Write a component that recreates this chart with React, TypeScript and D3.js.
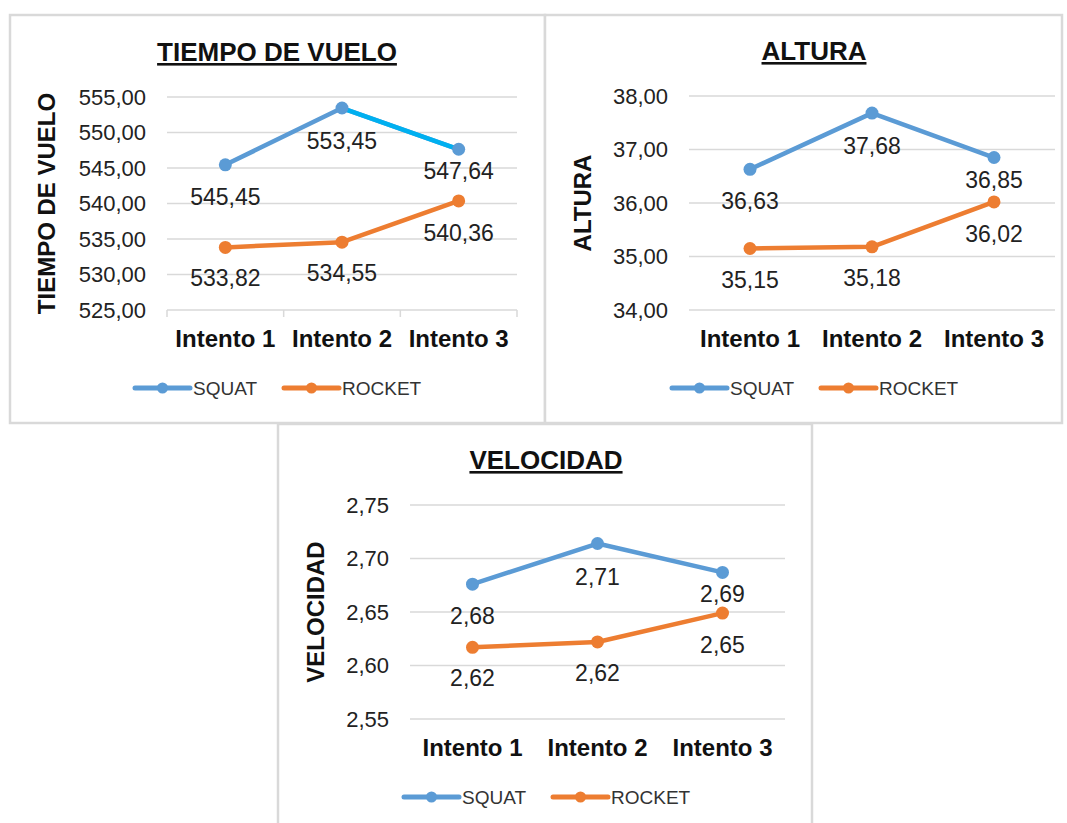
import * as d3 from "d3";

const categories = ["Intento 1", "Intento 2", "Intento 3"];
const seriesNames = ["SQUAT", "ROCKET"];

const tiempoSquat = [545.45, 553.45, 547.64];
const tiempoRocket = [533.82, 534.55, 540.36];
const tiempoTicks = [525, 530, 535, 540, 545, 550, 555];

const alturaSquat = [36.63, 37.68, 36.85];
const alturaRocket = [35.15, 35.18, 36.02];
const alturaTicks = [34, 35, 36, 37, 38];

const velocidadSquat = [2.676, 2.714, 2.687];
const velocidadRocket = [2.617, 2.622, 2.649];
const velocidadTicks = [2.55, 2.6, 2.65, 2.7, 2.75];

const colors = ["#5b9bd5", "#ed7d31"];
const highlight = "#00b0f0";
const grid = "#d9d9d9";
const font = "'Liberation Sans', Arial, sans-serif";

// label distance below each point (series x category)
const labelDy = [
  [32, 33, 22],
  [31, 31, 32],
];

const fmt = (v: number) => d3.format(".2f")(v).replace(".", ",");

type Panel = {
  title: string;
  series: number[][];
  ticks: number[];
  box: [number, number, number, number];
  plot: { left: number; right: number; top: number; bottom: number };
  cx: number;
  yTitleX: number;
  tickMarks: boolean;
  cyanSegment?: number;
};

const panels: Panel[] = [
  {
    title: "TIEMPO DE VUELO",
    series: [tiempoSquat, tiempoRocket],
    ticks: tiempoTicks,
    box: [10, 15, 545, 423],
    plot: { left: 167, right: 517, top: 97, bottom: 310 },
    cx: 277,
    yTitleX: 47,
    tickMarks: true,
    cyanSegment: 1,
  },
  {
    title: "ALTURA",
    series: [alturaSquat, alturaRocket],
    ticks: alturaTicks,
    box: [545, 15, 1062, 423],
    plot: { left: 689, right: 1055, top: 96, bottom: 310 },
    cx: 814,
    yTitleX: 583,
    tickMarks: false,
  },
  {
    title: "VELOCIDAD",
    series: [velocidadSquat, velocidadRocket],
    ticks: velocidadTicks,
    box: [278, 424, 812, 830],
    plot: { left: 410, right: 785, top: 505, bottom: 719 },
    cx: 546,
    yTitleX: 316,
    tickMarks: false,
  },
];

function LineChart({ p }: { p: Panel }) {
  const { plot } = p;
  const x = d3
    .scaleBand<string>()
    .domain(categories)
    .range([plot.left, plot.right]);
  const y = d3
    .scaleLinear()
    .domain(d3.extent(p.ticks) as [number, number])
    .range([plot.bottom, plot.top]);
  const cxOf = (c: string) => (x(c) ?? 0) + x.bandwidth() / 2;
  const line = d3
    .line<number>()
    .x((_, i) => cxOf(categories[i]))
    .y((d) => y(d));

  return (
    <g>
      <rect
        x={p.box[0]}
        y={p.box[1]}
        width={p.box[2] - p.box[0]}
        height={p.box[3] - p.box[1]}
        fill="#fff"
        stroke={grid}
        strokeWidth={2.5}
      />
      <text
        x={p.cx}
        y={plot.top - 36}
        textAnchor="middle"
        fontSize={26}
        fontWeight="bold"
        fill="#111"
        style={{ textDecoration: "underline" }}
      >
        {p.title}
      </text>
      {p.ticks.map((t) => (
        <g key={t}>
          <line
            x1={plot.left}
            x2={plot.right}
            y1={y(t)}
            y2={y(t)}
            stroke={grid}
            strokeWidth={1.5}
          />
          <text
            x={plot.left - 21}
            y={y(t)}
            dy="0.35em"
            textAnchor="end"
            fontSize={22}
            fill="#222"
          >
            {fmt(t)}
          </text>
        </g>
      ))}
      {p.tickMarks &&
        [...categories.map((c) => x(c) ?? 0), plot.right].map((tx) => (
          <line
            key={tx}
            x1={tx}
            x2={tx}
            y1={plot.bottom}
            y2={plot.bottom + 7}
            stroke={grid}
            strokeWidth={1.5}
          />
        ))}
      {categories.map((c) => (
        <text
          key={c}
          x={cxOf(c)}
          y={plot.bottom + 37}
          textAnchor="middle"
          fontSize={24}
          fontWeight="bold"
          fill="#111"
        >
          {c}
        </text>
      ))}
      <text
        transform={`translate(${p.yTitleX},${(plot.top + plot.bottom) / 2}) rotate(-90)`}
        dy="0.35em"
        textAnchor="middle"
        fontSize={24}
        fontWeight="bold"
        fill="#111"
      >
        {p.title}
      </text>
      {p.series.map((vals, si) => (
        <g key={si}>
          <path
            d={line(vals) ?? ""}
            fill="none"
            stroke={colors[si]}
            strokeWidth={4.5}
            strokeLinejoin="round"
          />
          {si === 0 && p.cyanSegment !== undefined && (
            <line
              x1={cxOf(categories[p.cyanSegment])}
              y1={y(vals[p.cyanSegment])}
              x2={cxOf(categories[p.cyanSegment + 1])}
              y2={y(vals[p.cyanSegment + 1])}
              stroke={highlight}
              strokeWidth={4.5}
            />
          )}
          {vals.map((v, i) => (
            <circle
              key={i}
              cx={cxOf(categories[i])}
              cy={y(v)}
              r={6.5}
              fill={colors[si]}
            />
          ))}
          {vals.map((v, i) => (
            <text
              key={"l" + i}
              x={cxOf(categories[i])}
              y={y(v) + labelDy[si][i]}
              dy="0.35em"
              textAnchor="middle"
              fontSize={23}
              fill="#222"
            >
              {fmt(v)}
            </text>
          ))}
        </g>
      ))}
      {seriesNames.map((name, si) => {
        const x0 = p.cx - 142 + si * 149;
        const ly = plot.bottom + 78;
        return (
          <g key={name}>
            <line
              x1={x0}
              x2={x0 + 55}
              y1={ly}
              y2={ly}
              stroke={colors[si]}
              strokeWidth={5}
              strokeLinecap="round"
            />
            <circle cx={x0 + 27.5} cy={ly} r={5.5} fill={colors[si]} />
            <text x={x0 + 58} y={ly} dy="0.35em" fontSize={19} fill="#333">
              {name}
            </text>
          </g>
        );
      })}
    </g>
  );
}

export default function App() {
  return (
    <svg
      width={1067}
      height={823}
      style={{ position: "absolute", left: 0, top: 0, background: "#fff" }}
      fontFamily={font}
    >
      {panels.map((p) => (
        <LineChart key={p.title} p={p} />
      ))}
    </svg>
  );
}
